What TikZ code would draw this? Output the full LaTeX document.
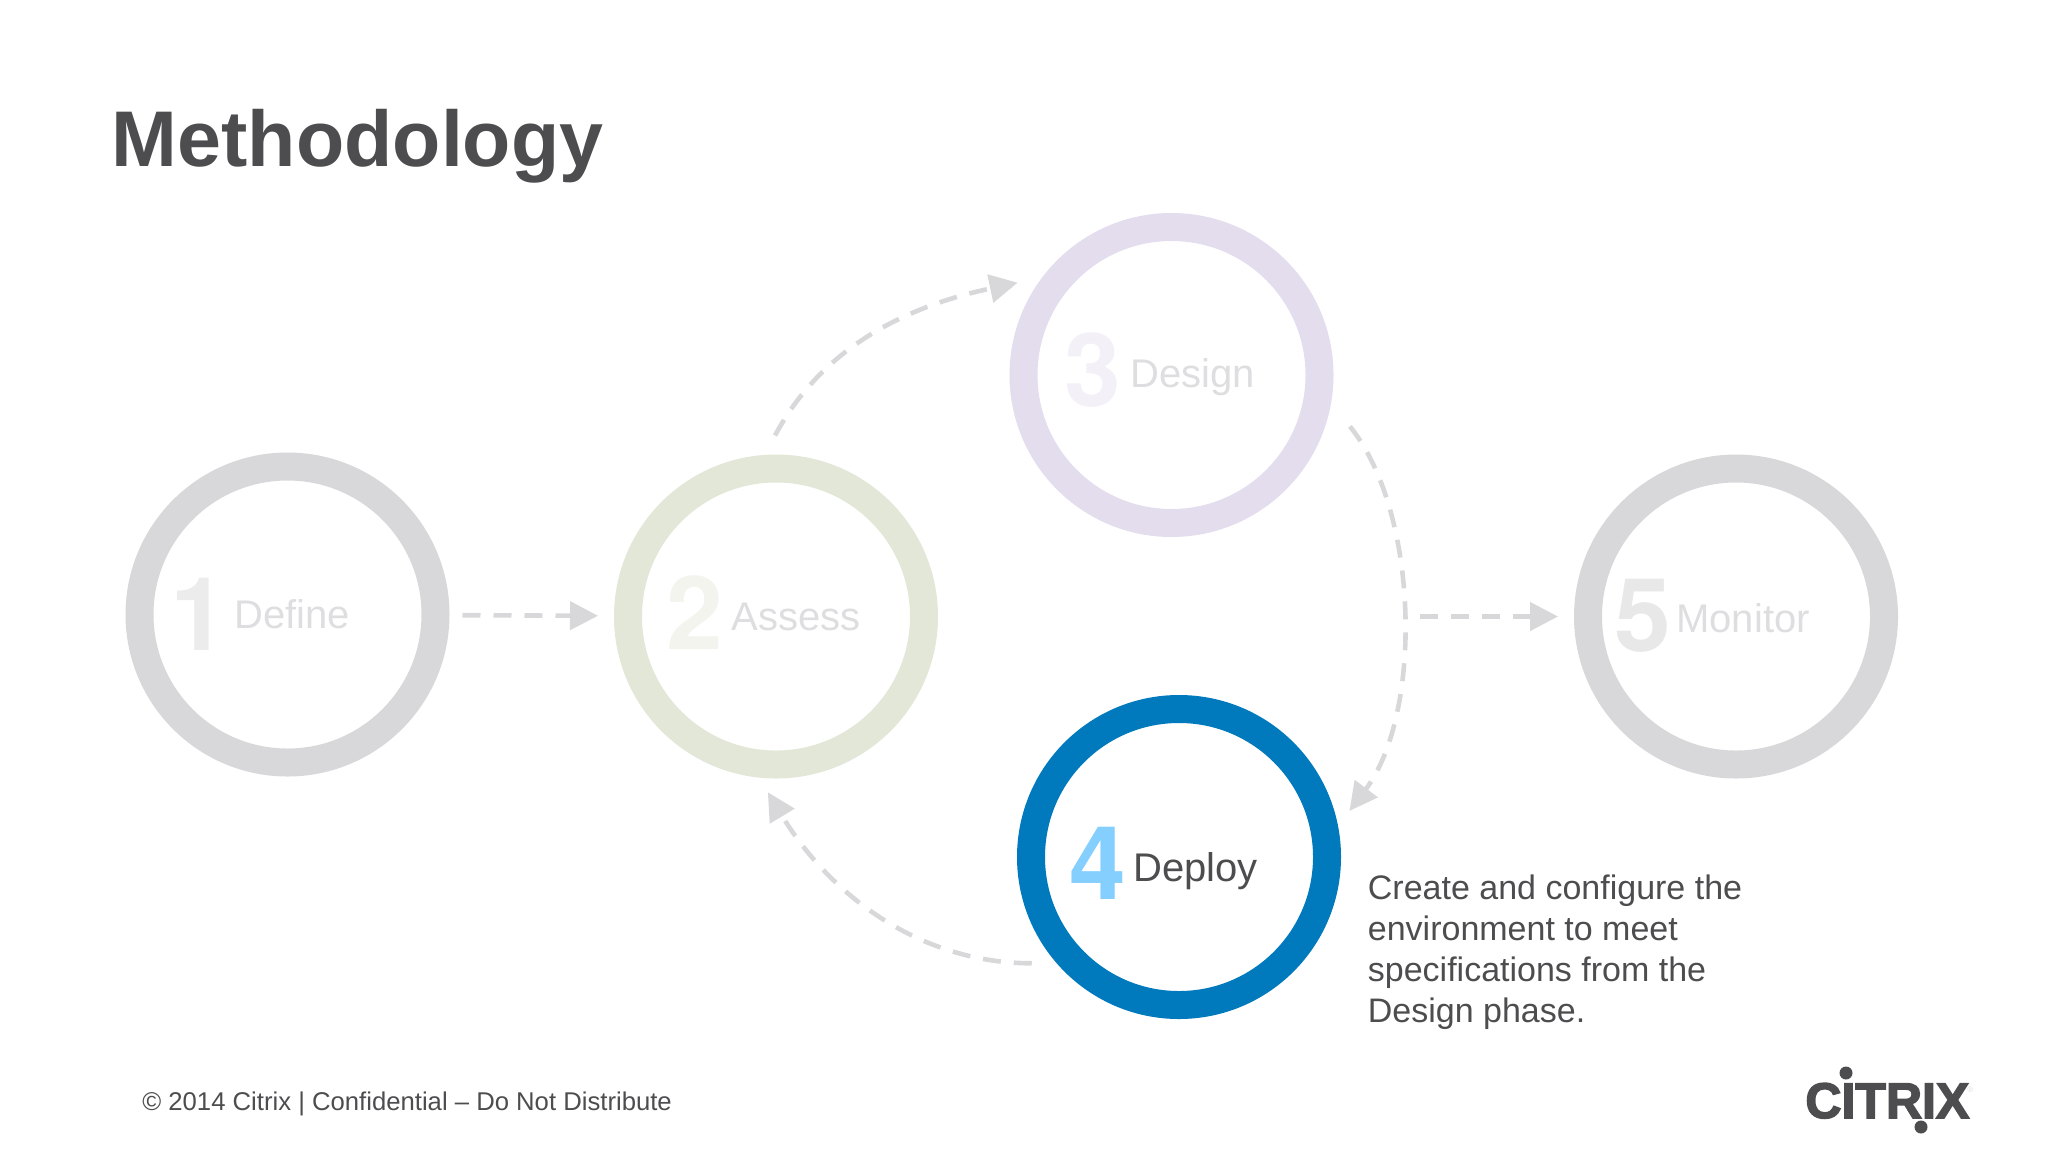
\documentclass[tikz,border=0pt]{standalone}
\usepackage{fontspec}
\setmainfont{Liberation Sans}
\newfontfamily\digitfont{TeX Gyre Heros}
\newfontfamily\logofont[FakeBold=3]{Liberation Sans Bold}
\usetikzlibrary{arrows.meta}
\definecolor{ringgray}{HTML}{D8D8DA}
\definecolor{ringgreen}{HTML}{E2E7D8}
\definecolor{ringviolet}{HTML}{E4DDEE}
\definecolor{ringblue}{HTML}{0079BD}
\definecolor{skyblue}{HTML}{85CFFF}
\definecolor{inkgray}{HTML}{4D4D4F}
\definecolor{fadegray}{HTML}{DEDEE0}
\begin{document}
\begin{tikzpicture}[
    x=0.5pt,y=-0.5pt,
    ring/.style={draw=#1,circle,line width=14pt,minimum size=148pt,inner sep=0pt},
    digit/.style={anchor=base,inner sep=0pt,text=#1,font=\fontsize{51}{51}\digitfont\bfseries},
    phase/.style={anchor=base west,inner sep=0pt,text=#1,font=\fontsize{20}{24}\selectfont},
    flow/.style={draw=ringgray,line width=2.3pt,dash pattern=on 9pt off 6.5pt,
        -{Triangle[length=14pt,width=14pt]}},
]
\useasboundingbox (0,0) rectangle (2048,1152);
\foreach \nm/\x/\y/\col in {define/287.5/614.5/ringgray,assess/776/616.5/ringgreen,
    design/1171.5/375/ringviolet,deploy/1179/857/ringblue,monitor/1736/616.5/ringgray}{
    \node[ring=\col] (\nm) at (\x,\y) {};
}
\foreach \nm/\num/\x/\y/\col in {one/1/199/650/ringgray!50,two/2/695/649/ringgreen!45,
    three/3/1092.5/406/ringviolet!45,four/4/1098/899/skyblue,five/5/1643/651/ringgray!60}{
    \node[digit=\col] (\nm) at (\x,\y) {\num};
}
\foreach \nm/\txt/\x/\y/\col in {tdefine/Define/234/628/fadegray,tassess/Assess/731/630/fadegray,
    tdesign/Design/1130/387/fadegray,tdeploy/Deploy/1133/881/inkgray,tmonitor/Monitor/1676/632/fadegray}{
    \node[phase=\col] (\nm) at (\x,\y) {\txt};
}
\node[anchor=base west,inner sep=0pt,text=inkgray,font=\fontsize{39.5}{44}\selectfont\bfseries] (title) at (111.5,166) {Methodology};
\node[anchor=north west,inner sep=0pt,text=inkgray,align=left,font=\fontsize{17}{20.5}\selectfont] (note) at (1367.5,874)
    {Create and configure the\\environment to meet\\specifications from the\\Design phase.};
\node[anchor=base west,inner sep=0pt,text=inkgray,font=\fontsize{12.84}{15}\selectfont] (footer) at (142,1110) {© 2014 Citrix | Confidential – Do Not Distribute};
% logo
\node[anchor=base west,inner sep=0pt,text=inkgray,font=\fontsize{25}{25}\logofont] (logo) at (1805,1118) {CITRIX};
\node[anchor=base west,inner sep=0pt,text=fadegray,font=\fontsize{4}{4}\selectfont] (reg) at (1967,1092) {®};
\fill[inkgray] (1846,1073) circle (6.5) (1921,1127) circle (6.5);
% connectors
\coordinate (fork) at (1420,616.5);
\draw[flow,shorten <=6.5pt,shorten >=8pt] (define) -- (assess);
\draw[flow,shorten >=8pt] (fork) -- (monitor);
\draw[flow,shorten <=11pt,shorten >=12.5pt] (assess.94) to[out=62,in=192] (design.143);
\draw[flow,shorten <=15pt,shorten >=9.5pt] (design.-10) to[out=-51,in=53,looseness=.85] (deploy.11);
\draw[flow,shorten <=12.5pt,shorten >=8.5pt] (deploy.221.6) to[out=180,in=-59] (assess.-96);
\end{tikzpicture}
\end{document}
